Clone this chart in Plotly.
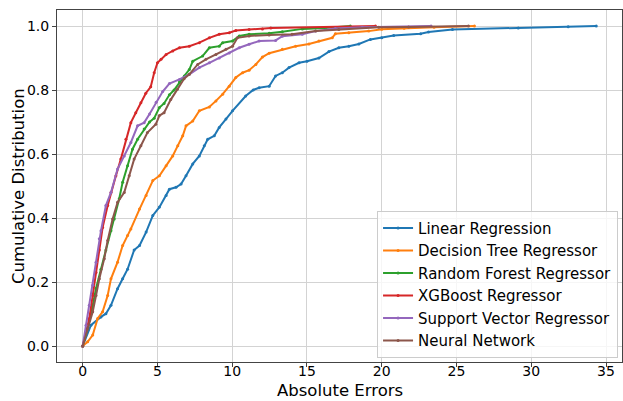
import plotly.graph_objects as go

# Model names and colours
models = ["Linear Regression", "Decision Tree Regressor", "Random Forest Regressor",
          "XGBoost Regressor", "Support Vector Regressor", "Neural Network"]
colors = ["#1f77b4", "#ff7f0e", "#2ca02c", "#d62728", "#9467bd", "#8c564b"]

# (absolute error, cumulative fraction)
lr_points = [(0, 0), (0.55, 0.065), (1.22, 0.091), (1.55, 0.101), (1.89, 0.127), (2.33, 0.179),
             (2.67, 0.21), (3.0, 0.24), (3.44, 0.30), (3.8, 0.314), (4.24, 0.356), (4.69, 0.408),
             (5.13, 0.434), (5.58, 0.47), (5.8, 0.49), (6.24, 0.496), (6.58, 0.506), (6.91, 0.532),
             (7.36, 0.569), (7.8, 0.594), (8.13, 0.626), (8.36, 0.646), (8.8, 0.657), (9.13, 0.683),
             (9.58, 0.709), (10.02, 0.735), (10.9, 0.781), (11.4, 0.80), (11.8, 0.807), (12.47, 0.812),
             (12.9, 0.844), (13.35, 0.854), (13.8, 0.87), (14.47, 0.885), (15.0, 0.89), (15.8, 0.90),
             (16.47, 0.92), (17.13, 0.932), (17.8, 0.937), (18.47, 0.944), (19.24, 0.958), (20.0, 0.963),
             (20.8, 0.97), (22.6, 0.976), (23.13, 0.981), (24.73, 0.989), (29.13, 0.994), (32.47, 0.998),
             (34.35, 1.0)]
dt_points = [(0, 0), (0.33, 0.013), (0.67, 0.034), (1.0, 0.086), (1.33, 0.107), (1.67, 0.158),
             (1.89, 0.21), (2.33, 0.262), (2.67, 0.314), (3.0, 0.345), (3.22, 0.366), (3.8, 0.428),
             (4.24, 0.47), (4.69, 0.517), (5.13, 0.532), (5.58, 0.563), (6.02, 0.594), (6.36, 0.626),
             (6.69, 0.657), (6.91, 0.688), (7.36, 0.703), (7.8, 0.735), (8.47, 0.747), (8.91, 0.766),
             (9.36, 0.787), (9.8, 0.812), (10.24, 0.839), (10.69, 0.854), (11.13, 0.862), (11.58, 0.88),
             (12.02, 0.903), (12.47, 0.915), (13.35, 0.927), (14.24, 0.937), (15.13, 0.944), (15.8, 0.953),
             (16.69, 0.963), (16.9, 0.976), (17.8, 0.979), (19.13, 0.984), (20.0, 0.99), (21.5, 0.993),
             (23.5, 0.996), (26.2, 1.0)]
rf_points = [(0, 0), (0.33, 0.055), (0.67, 0.127), (0.89, 0.18), (1.22, 0.24), (1.55, 0.30),
             (1.89, 0.36), (2.11, 0.397), (2.44, 0.46), (2.67, 0.512), (3.0, 0.563), (3.33, 0.615),
             (3.67, 0.646), (4.11, 0.678), (4.47, 0.70), (4.78, 0.712), (5.13, 0.745), (5.44, 0.758),
             (5.8, 0.785), (6.11, 0.80), (6.47, 0.825), (6.8, 0.844), (7.13, 0.864), (7.36, 0.89),
             (8.02, 0.906), (8.47, 0.932), (9.13, 0.937), (9.36, 0.948), (10.02, 0.953), (10.47, 0.969),
             (11.13, 0.974), (12.47, 0.977), (13.35, 0.982), (14.69, 0.991), (16.24, 0.994), (17.9, 1.0)]
xgb_points = [(0, 0), (0.44, 0.086), (0.67, 0.158), (0.89, 0.23), (1.11, 0.30), (1.33, 0.37),
              (1.67, 0.439), (1.89, 0.48), (2.22, 0.532), (2.55, 0.584), (2.89, 0.646), (3.22, 0.698),
              (3.55, 0.729), (3.89, 0.76), (4.22, 0.79), (4.55, 0.81), (4.78, 0.854), (5.0, 0.885),
              (5.24, 0.896), (5.58, 0.911), (6.02, 0.922), (6.47, 0.932), (7.13, 0.937), (7.8, 0.948),
              (8.47, 0.963), (9.13, 0.974), (9.8, 0.979), (10.24, 0.986), (11.13, 0.989), (12.02, 0.991),
              (12.58, 0.994), (19.58, 1.0)]
svr_points = [(0, 0), (0.22, 0.065), (0.44, 0.127), (0.67, 0.19), (0.89, 0.262), (1.11, 0.335),
              (1.22, 0.36), (1.55, 0.439), (1.89, 0.48), (2.33, 0.553), (2.78, 0.594), (3.22, 0.636),
              (3.67, 0.688), (4.11, 0.698), (4.47, 0.725), (4.91, 0.762), (5.35, 0.795), (5.8, 0.82),
              (6.47, 0.833), (7.13, 0.849), (7.8, 0.87), (8.47, 0.885), (9.13, 0.90), (9.8, 0.916),
              (10.47, 0.932), (11.13, 0.943), (11.8, 0.953), (12.9, 0.955), (13.35, 0.968), (14.69, 0.974),
              (15.58, 0.984), (16.9, 0.992), (18.7, 0.996), (23.3, 1.0)]
nn_points = [(0, 0), (0.33, 0.055), (0.67, 0.107), (0.89, 0.158), (1.11, 0.21), (1.44, 0.273),
             (1.67, 0.33), (2.0, 0.397), (2.33, 0.449), (2.78, 0.48), (3.11, 0.532), (3.44, 0.584),
             (3.89, 0.626), (4.33, 0.667), (4.89, 0.693), (5.13, 0.72), (5.44, 0.729), (5.89, 0.77),
             (6.33, 0.802), (6.78, 0.835), (7.13, 0.849), (7.69, 0.88), (8.24, 0.896), (8.91, 0.911),
             (9.58, 0.927), (10.02, 0.937), (10.35, 0.963), (11.13, 0.969), (12.47, 0.972), (14.0, 0.974),
             (15.58, 0.984), (17.13, 0.989), (19.8, 0.996), (21.8, 0.997), (25.8, 1.0)]

series = [lr_points, dt_points, rf_points, xgb_points, svr_points, nn_points]

x_ticks = [0, 5, 10, 15, 20, 25, 30, 35]
y_ticks = [0.0, 0.2, 0.4, 0.6, 0.8, 1.0]
x_title = "Absolute Errors"
y_title = "Cumulative Distribution"

FONT = "DejaVu Sans"

fig = go.Figure()
for name, col, pts in zip(models, colors, series):
    fig.add_trace(go.Scatter(
        x=[p[0] for p in pts], y=[p[1] for p in pts],
        mode="lines+markers", name=name, legendgroup=name,
        line=dict(color=col, width=2),
        marker=dict(color=col, size=3, symbol="circle"),
    ))

axis_common = dict(
    showgrid=True, gridcolor="#d3d3d3", gridwidth=1, zeroline=False,
    showline=True, mirror=True, linecolor="#444444", linewidth=1,
    ticks="outside", ticklen=4, tickcolor="#444444",
    tickfont=dict(family=FONT, size=14, color="#000000"),
)

fig.update_layout(
    width=623, height=401,
    margin=dict(l=57, r=1, t=10, b=39, autoexpand=False),
    paper_bgcolor="white", plot_bgcolor="white",
    font=dict(family=FONT, color="#000000"),
    xaxis=dict(range=[-1.72, 36.07], tickvals=x_ticks, ticklabelstandoff=-8, **axis_common),
    yaxis=dict(range=[-0.05, 1.05], tickvals=y_ticks, tickformat=".1f", **axis_common),
    legend=dict(x=0.993, y=0.012, xanchor="right", yanchor="bottom",
                bgcolor="rgba(255,255,255,0.8)", bordercolor="#cccccc", borderwidth=1,
                font=dict(family=FONT, size=15), tracegroupgap=1, traceorder="normal"),
    showlegend=True,
    annotations=[
        dict(text=x_title, xref="paper", yref="paper", x=0.5, y=(362 - 390) / 352,
             xanchor="center", yanchor="middle", showarrow=False,
             font=dict(family=FONT, size=16.5, color="#000000")),
        dict(text=y_title, xref="paper", yref="paper", x=(18 - 57) / 565, y=0.5,
             xanchor="center", yanchor="middle", textangle=-90, showarrow=False,
             font=dict(family=FONT, size=16.5, color="#000000")),
    ],
)

fig.write_html("out.html")
